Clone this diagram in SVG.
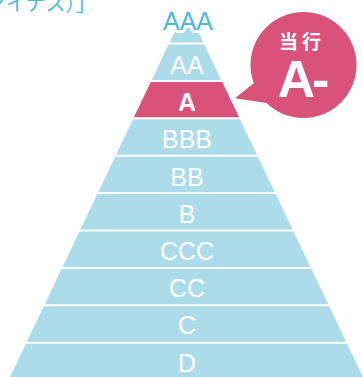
<svg xmlns="http://www.w3.org/2000/svg" width="363" height="377" viewBox="0 0 363 377">
<style>
.tier{fill:#acdcea}
.cur{fill:#d9527a}
.lbl{font-family:"Liberation Sans",Arial,sans-serif;font-size:25px;fill:#ffffff;text-anchor:middle}
.b{font-weight:bold}
.jp{font-family:"Noto Sans CJK JP",sans-serif}
</style>
<rect width="363" height="377" fill="#ffffff"/>
<text class="jp" x="-14" y="11" font-size="20" fill="#4cbad5">マイナス）」</text>
<g id="tier-AAA">
<polygon class="tier" points="183.2,14 189.8,14 203.43,42.5 169.57,42.5"/>
<text x="188" y="30" font-family="Liberation Sans,Arial,sans-serif" font-size="25" fill="#4cbad5" stroke="#ffffff" stroke-width="6" stroke-linejoin="round" paint-order="stroke" text-anchor="middle">AAA</text>
</g>
<g id="tier-AA">
<polygon class="tier" points="168.61,44.5 204.39,44.5 221.27,79.9 151.73,79.9"/>
<text class="lbl" x="187" y="74">AA</text>
</g>
<g id="tier-A">
<polygon class="cur" points="150.77,81.9 222.23,81.9 239.11,117.3 133.89,117.3"/>
<text class="lbl b" x="187" y="111.2">A</text>
</g>
<g id="tier-BBB">
<polygon class="tier" points="132.93,119.3 240.07,119.3 256.95,154.7 116.05,154.7"/>
<text class="lbl" x="187" y="148.4">BBB</text>
</g>
<g id="tier-BB">
<polygon class="tier" points="115.09,156.7 257.91,156.7 274.79,192.1 98.21,192.1"/>
<text class="lbl" x="187" y="185.6">BB</text>
</g>
<g id="tier-B">
<polygon class="tier" points="97.25,194.1 275.75,194.1 292.63,229.5 80.37,229.5"/>
<text class="lbl" x="187" y="222.8">B</text>
</g>
<g id="tier-CCC">
<polygon class="tier" points="79.41,231.5 293.59,231.5 310.47,266.9 62.53,266.9"/>
<text class="lbl" x="187" y="260">CCC</text>
</g>
<g id="tier-CC">
<polygon class="tier" points="61.57,268.9 311.43,268.9 328.31,304.3 44.69,304.3"/>
<text class="lbl" x="187" y="297.2">CC</text>
</g>
<g id="tier-C">
<polygon class="tier" points="43.73,306.3 329.27,306.3 346.15,341.7 26.85,341.7"/>
<text class="lbl" x="187" y="334.4">C</text>
</g>
<g id="tier-D">
<polygon class="tier" points="25.89,343.7 347.11,343.7 364.42,380 8.58,380"/>
<text class="lbl" x="187" y="371.6">D</text>
</g>
<g id="connectors">
<polygon class="cur" points="235,98.3 257,80.5 270,103.5"/>
</g>
<g id="bubble">
<circle class="cur" cx="303.5" cy="65" r="53"/>
<text class="jp b" x="302" y="48.5" font-size="19" letter-spacing="4" fill="#ffffff" text-anchor="middle">当行</text>
<text x="302" y="97" font-family="Liberation Sans,Arial,sans-serif" font-weight="bold" font-size="52" letter-spacing="-3" fill="#ffffff" text-anchor="middle">A-</text>
</g>
</svg>
